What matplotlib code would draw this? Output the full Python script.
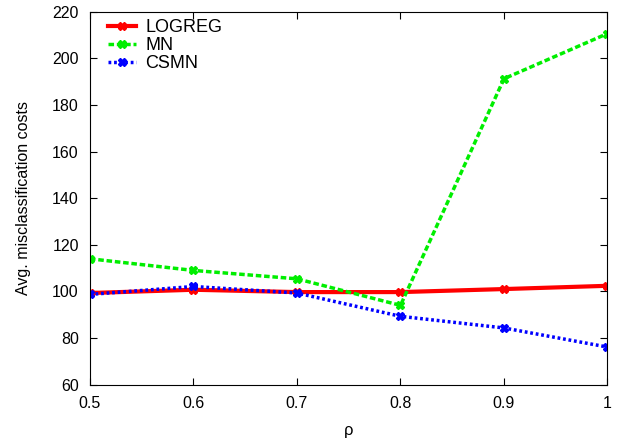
import numpy as np
import matplotlib
matplotlib.use("Agg")
import matplotlib.pyplot as plt

plt.rcParams['font.family'] = ['Liberation Sans', 'DejaVu Sans']

rho = [0.5, 0.6, 0.7, 0.8, 0.9, 1.0]
logreg = [99.3, 100.7, 99.7, 99.7, 101.0, 102.4]
mn = [114.0, 109.0, 105.4, 94.0, 191.3, 210.7]
csmn = [98.7, 102.1, 99.3, 89.3, 84.3, 76.1]

fig = plt.figure(figsize=(6.18, 4.4), dpi=100)
ax = fig.add_axes([0.1456, 0.126, 0.8374, 0.847])

ax.plot(rho, logreg, color='#ff0000', linewidth=3, linestyle='-',
        marker='X', markersize=6, label='LOGREG')
ax.plot(rho, mn, color='#00ee00', linewidth=2.5, linestyle=(0, (1.6, 0.8)),
        marker='X', markersize=6, label='MN')
ax.plot(rho, csmn, color='#0000ff', linewidth=2.5, linestyle=(0, (0.8, 0.8)),
        marker='X', markersize=6, label='CSMN')

ax.set_xlim(0.5, 1.0)
ax.set_ylim(60, 220)
ax.set_xticks([0.5, 0.6, 0.7, 0.8, 0.9, 1.0])
ax.set_xticklabels(['0.5', '0.6', '0.7', '0.8', '0.9', '1'])
ax.set_yticks(np.arange(60, 221, 20))
ax.tick_params(direction='in', top=True, right=True, length=5, labelsize=11.5, pad=8)
ax.set_xlabel('ρ', fontsize=12, labelpad=9)
ax.set_ylabel('Avg. misclassification costs', fontsize=11.5, labelpad=15)

ax.legend(loc='upper left', frameon=False, fontsize=13, handlelength=1.6,
          labelspacing=0.05, borderaxespad=0.0, handletextpad=0.5,
          bbox_to_anchor=(0.02, 1.0))

fig.savefig('out.png', dpi=100)
